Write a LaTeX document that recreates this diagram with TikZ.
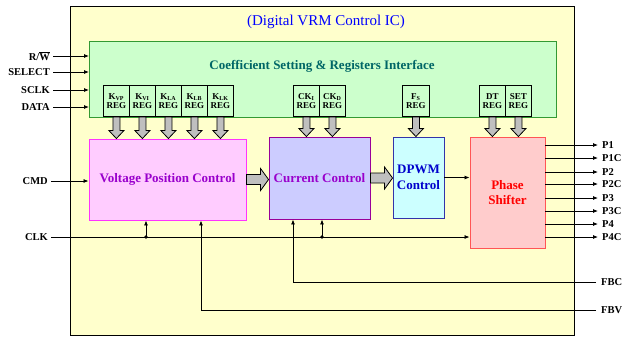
\documentclass[tikz,border=0pt]{standalone}
\usepackage{fontspec}
\setmainfont{Liberation Serif}
\usepackage{tikz}
\usetikzlibrary{arrows.meta, positioning, calc}
\definecolor{icyellow}{RGB}{255,255,204}
\definecolor{ifgreen}{RGB}{204,255,204}
\definecolor{ifborder}{RGB}{51,153,51}
\definecolor{iftext}{RGB}{0,102,102}
\definecolor{vpcfill}{RGB}{255,204,255}
\definecolor{vpcborder}{RGB}{255,51,255}
\definecolor{ccfill}{RGB}{204,204,255}
\definecolor{ccborder}{RGB}{153,0,153}
\definecolor{blocktext}{RGB}{153,0,204}
\definecolor{pwmfill}{RGB}{204,255,255}
\definecolor{pwmborder}{RGB}{51,51,170}
\definecolor{pwmtext}{RGB}{0,0,204}
\definecolor{psfill}{RGB}{255,204,204}
\definecolor{psborder}{RGB}{255,85,85}
\definecolor{fatgray}{RGB}{191,191,191}
\tikzstyle{regnode} = [draw, fill=ifgreen, line width=0.8pt, minimum width=26pt, minimum height=31pt, inner sep=0pt, anchor=south west, align=center, font=\fontsize{9}{9.5}\selectfont\bfseries]
\tikzstyle{block} = [draw, line width=0.9pt, inner sep=0pt, align=center, font=\fontsize{13}{15.5}\selectfont\bfseries]
\tikzstyle{llbl} = [anchor=east, inner sep=0pt, inner xsep=3pt, font=\fontsize{10.5}{11}\selectfont\bfseries]
\tikzstyle{rlbl} = [anchor=west, inner sep=0pt, inner xsep=5pt, font=\fontsize{10.5}{11}\selectfont\bfseries]
\tikzstyle{line} = [draw, line width=0.8pt]
\tikzstyle{arrow} = [draw, line width=0.8pt, -{Latex[length=5pt,width=4pt]}]
\tikzstyle{fat} = [draw, fill=fatgray, line width=0.8pt, line join=miter]
\tikzstyle{dot} = [circle, fill, inner sep=1.3pt]
% fat arrow going down: x from #1, tip at the height of #2
\newcommand{\fatdown}[2]{\path [fat] let \p1=(#1), \p2=(#2) in
  (\x1-3.5pt,\y1) -- (\x1-3.5pt,\y2+8pt) -- (\x1-7.5pt,\y2+8pt) -- (\x1,\y2)
  -- (\x1+7.5pt,\y2+8pt) -- (\x1+3.5pt,\y2+8pt) -- (\x1+3.5pt,\y1) -- cycle;}
% fat arrow going right: y from #1, tip at the x of #2
\newcommand{\fatright}[2]{\path [fat] let \p1=(#1), \p2=(#2) in
  (\x1,\y1+5pt) -- (\x2-8pt,\y1+5pt) -- (\x2-8pt,\y1+11pt) -- (\x2,\y1)
  -- (\x2-8pt,\y1-11pt) -- (\x2-8pt,\y1-5pt) -- (\x1,\y1-5pt) -- cycle;}

\begin{document}
\begin{tikzpicture}[x=1pt, y=-1pt]
	\useasboundingbox (0,0) rectangle (629,341);
	\node [draw, fill=icyellow, line width=1pt, minimum width=504pt, minimum height=329pt, inner sep=0pt, anchor=north west] (chip) at (70,6) {};
	\node [text=blue, font=\fontsize{15}{17}\selectfont] (title) at (326,22) {(Digital VRM Control IC)};
	
	% register interface
	\node [draw=ifborder, fill=ifgreen, line width=0.9pt, minimum width=467pt, minimum height=76pt, inner sep=0pt, anchor=north west] (iface) at (89,41) {};
	\node [text=iftext, font=\fontsize{13}{14}\selectfont\bfseries] (iftitle) at (322,66) {Coefficient Setting \& Registers Interface};
	\node [regnode] (kvp) at (103,117) {K\textsubscript{VP}\\REG};
	\node [regnode] (kvi) at (129,117) {K\textsubscript{VI}\\REG};
	\node [regnode] (kla) at (155,117) {K\textsubscript{LA}\\REG};
	\node [regnode] (klb) at (181,117) {K\textsubscript{LB}\\REG};
	\node [regnode] (klk) at (207,117) {K\textsubscript{LK}\\REG};
	\node [regnode] (cki) at (293,117) {CK\textsubscript{I}\\REG};
	\node [regnode] (ckd) at (319,117) {CK\textsubscript{D}\\REG};
	\node [regnode, minimum width=27pt] (fs) at (402,117) {F\textsubscript{S}\\REG};
	\node [regnode] (dt) at (479,117) {DT\\REG};
	\node [regnode] (set) at (505,117) {SET\\REG};
	
	% blocks
	\node [block, draw=vpcborder, fill=vpcfill, text=blocktext, minimum width=157pt, minimum height=81pt] (vpc) at (167.5,179.5) {Voltage Position Control};
	\node [block, draw=ccborder, fill=ccfill, text=blocktext, minimum width=101pt, minimum height=82pt] (cc) at (319.5,178) {Current Control};
	\node [block, draw=pwmborder, fill=pwmfill, text=pwmtext, minimum width=51pt, minimum height=81pt] (dpwm) at (418.5,177.5) {DPWM\\Control};
	\node [block, draw=psborder, fill=psfill, text=red, minimum width=75pt, minimum height=111pt] (ps) at (507.5,192.5) {Phase\\Shifter};
	
	% coefficients into the blocks
	\foreach \r in {kvp, kvi, kla, klb, klk} {\fatdown{\r.south}{vpc.north}}
	\foreach \r in {cki, ckd} {\fatdown{\r.south}{cc.north}}
	\fatdown{fs.south}{dpwm.north}
	\foreach \r in {dt, set} {\fatdown{\r.south}{ps.north}}
	\fatright{vpc.east}{cc.west}
	\fatright{cc.east}{dpwm.west}
	\path [arrow] (dpwm.east) -- (dpwm.east -| ps.west);
	
	% serial interface inputs
	\node [llbl] (rw) at (53,56) {R/$\overline{\textbf{W}}$};
	\node [llbl] (select) at (53,72) {SELECT};
	\node [llbl] (sclk) at (53,90) {SCLK};
	\node [llbl] (data) at (53,107) {DATA};
	\foreach \s in {rw, select, sclk, data} {\path [arrow] (\s.east) -- (\s.east -| iface.west);}
	\node [llbl] (cmd) at (51,181) {CMD};
	\path [arrow] (cmd.east) -- (cmd.east -| vpc.west);
	
	% clock
	\node [llbl] (clk) at (51,237) {CLK};
	\path [arrow] (clk.east) -- (clk.east -| ps.west);
	\coordinate (clkv) at (146,237);
	\coordinate (clkc) at (322,237);
	\node [dot] at (clkv) {};
	\node [dot] at (clkc) {};
	\path [arrow] (clkv) -- (clkv |- vpc.south);
	\path [arrow] (clkc) -- (clkc |- cc.south);
	
	% feedback
	\node [rlbl] (fbc) at (596,282) {FBC};
	\node [rlbl] (fbv) at (596,310) {FBV};
	\coordinate (fbcx) at (293,282);
	\coordinate (fbvx) at (201,310);
	\path [arrow] (fbc.west) -- (fbcx) -- (fbcx |- cc.south);
	\path [arrow] (fbv.west) -- (fbvx) -- (fbvx |- vpc.south);
	
	% phase outputs
	\foreach \p/\yy in {P1/145, P1C/158, P2/172, P2C/184, P3/198, P3C/211, P4/224, P4C/237} {
		\node [rlbl, inner xsep=4pt] (\p) at (598,\yy) {\p};
		\path [arrow] (ps.east |- \p.west) -- (\p.west);
	}
\end{tikzpicture}
\end{document}
